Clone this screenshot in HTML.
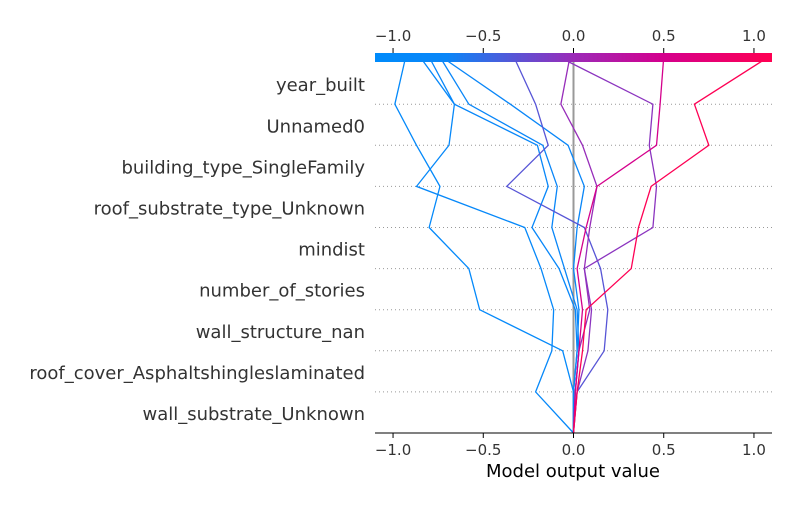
<!DOCTYPE html>
<html><head><meta charset="utf-8"><style>
body{margin:0;background:#fff;}
svg{display:block;font-family:"DejaVu Sans","Liberation Sans",sans-serif;}
</style></head><body>
<svg id="c" width="800" height="509" viewBox="0 0 800 509">
<defs><linearGradient id="cb" x1="0" x2="1" y1="0" y2="0">
<stop offset="0" stop-color="#008bfb"/><stop offset="0.18" stop-color="#0a86f8"/>
<stop offset="0.5" stop-color="#9b2ab8"/><stop offset="0.72" stop-color="#d3008e"/><stop offset="1" stop-color="#ff0052"/>
</linearGradient></defs>
</svg>
<script>
const features=["wall_substrate_Unknown","roof_cover_Asphaltshingleslaminated","wall_structure_nan","number_of_stories","mindist","roof_substrate_type_Unknown","building_type_SingleFamily","Unnamed0","year_built"];
const ticks=[-1.0,-0.5,0.0,0.5,1.0];
const tickLabels=["−1.0","−0.5","0.0","0.5","1.0"];
const baseValue=0;
const s1=[0,0.02,0.05,0.07,0.32,0.36,0.43,0.75,0.67,1.08];
const s2=[0,0.01,0.03,0.05,0.02,0.07,0.13,0.46,0.48,0.50];
const s3=[0,0.02,0.08,0.10,0.06,0.44,0.46,0.42,0.44,-0.08];
const s4=[0,0.01,0.03,0.09,0.06,0.09,0.13,0.05,-0.07,-0.02];
const s5=[0,0.02,0.17,0.19,0.15,0.06,-0.37,-0.14,-0.21,-0.33];
const s6=[0,0,-0.06,-0.52,-0.58,-0.80,-0.74,-0.87,-0.99,-0.93];
const s7=[0,-0.21,-0.12,-0.11,-0.18,-0.27,-0.87,-0.69,-0.66,-0.85];
const s8=[0,0,0.02,0.01,-0.08,-0.23,-0.14,-0.20,-0.66,-0.80];
const s9=[0,0.01,0.03,0.02,-0.05,-0.12,-0.09,-0.17,-0.58,-0.74];
const s10=[0,0,0.02,0.03,0,0.02,0.06,-0.03,-0.35,-0.73];
const series=[s6,s7,s8,s9,s10,s5,s4,s3,s2,s1];

const svg=document.getElementById('c');
const NS="http://www.w3.org/2000/svg";
const X0=375,X1=772,xmin=-1.1,xmax=1.1;
const x=v=>X0+(v-xmin)/(xmax-xmin)*(X1-X0);
const yB=433,yStep=41.1;
const y=i=>i<9?yB-i*yStep:57;
function mk(t,a,p){const e=document.createElementNS(NS,t);for(const k in a)e.setAttribute(k,a[k]);(p||svg).appendChild(e);return e;}
const stops=[[0,[0,139,251]],[0.18,[10,134,248]],[0.5,[155,42,184]],[0.72,[211,0,142]],[1,[255,0,82]]];
function col(v){let f=(v-xmin)/(xmax-xmin);f=Math.max(0,Math.min(1,f));for(let i=1;i<stops.length;i++){if(f<=stops[i][0]){const a=stops[i-1],b=stops[i];const t=(f-a[0])/(b[0]-a[0]);const c=a[1].map((q,j)=>Math.round(q+(b[1][j]-q)*t));return `rgb(${c})`;}}return 'rgb(255,0,82)';}

for(let i=1;i<9;i++){const g=mk('line',{x1:X0,x2:X1,y1:y(i),y2:y(i),stroke:'#999','stroke-width':1,'stroke-dasharray':'1,3'});

}
features.forEach((f,i)=>{const t=mk('text',{x:365,y:y(i)-20.5+7.5,'text-anchor':'end','font-size':18,fill:'#333'});t.textContent=f;

});
const bl=mk('line',{x1:x(baseValue),x2:x(baseValue),y1:57,y2:yB,stroke:'#999','stroke-width':2});


series.forEach(s=>{const pts=s.map((v,i)=>`${x(v)},${y(i)}`).join(' ');
const p=mk('polyline',{points:pts,fill:'none',stroke:col(s[s.length-1]),'stroke-width':1.3});

});
const cb=mk('rect',{x:X0,y:53,width:X1-X0,height:9,fill:'url(#cb)'});


const ab=mk('line',{x1:X0,x2:X1,y1:yB,y2:yB,stroke:'#000','stroke-width':1});


ticks.forEach((v,i)=>{
const a=mk('line',{x1:x(v),x2:x(v),y1:yB,y2:yB+5,stroke:'#000'});


const t=mk('text',{x:x(v),y:yB+22,'text-anchor':'middle','font-size':15,fill:'#333'});t.textContent=tickLabels[i];


const b=mk('line',{x1:x(v),x2:x(v),y1:48,y2:53,stroke:'#000'});


const u=mk('text',{x:x(v),y:41,'text-anchor':'middle','font-size':15,fill:'#333'});u.textContent=tickLabels[i];

});
const xl=mk('text',{x:573,y:477,'text-anchor':'middle','font-size':18,fill:'#000'});xl.textContent="Model output value";


</script>
</body></html>
